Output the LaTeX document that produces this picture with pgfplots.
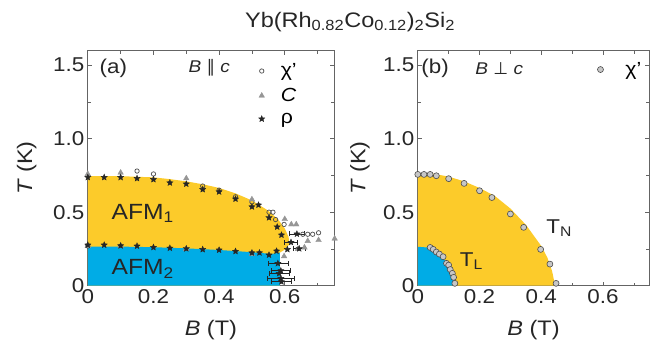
\documentclass[border=0pt]{standalone}
\usepackage{fontspec}
\setmainfont{Liberation Sans}[FakeStretch=1.12]
\newfontfamily\dejavu{DejaVu Sans}
\usepackage{pgfplots}
\pgfplotsset{compat=1.18}
\definecolor{afmy}{RGB}{252,203,42}
\definecolor{afmb}{RGB}{0,172,230}
\definecolor{axgray}{RGB}{100,100,100}
\definecolor{trigray}{RGB}{150,150,150}
\pgfdeclareplotmark{fstar}{%
 \pgfpathmoveto{\pgfpointpolar{90}{\pgfplotmarksize}}%
 \pgfpathlineto{\pgfpointpolar{126}{0.45\pgfplotmarksize}}%
 \pgfpathlineto{\pgfpointpolar{162}{\pgfplotmarksize}}%
 \pgfpathlineto{\pgfpointpolar{198}{0.45\pgfplotmarksize}}%
 \pgfpathlineto{\pgfpointpolar{234}{\pgfplotmarksize}}%
 \pgfpathlineto{\pgfpointpolar{270}{0.45\pgfplotmarksize}}%
 \pgfpathlineto{\pgfpointpolar{306}{\pgfplotmarksize}}%
 \pgfpathlineto{\pgfpointpolar{342}{0.45\pgfplotmarksize}}%
 \pgfpathlineto{\pgfpointpolar{18}{\pgfplotmarksize}}%
 \pgfpathlineto{\pgfpointpolar{54}{0.45\pgfplotmarksize}}%
 \pgfpathclose\pgfusepathqfillstroke}
\pgfplotsset{
 pstyle/.style={
  scale only axis, height=235.2pt, anchor=south west,
  xmin=0, xmax=0.75, ymin=0, ymax=1.6,
  xtick={0,0.2,0.4,0.6}, xticklabels={0,0.2,0.4,0.6},
  minor xtick={0.1,0.3,0.5,0.7},
  ytick={0,0.5,1,1.5}, yticklabels={0,0.5,1.0,1.5},
  minor ytick={0.25,0.75,1.25},
  tick align=inside, major tick length=4pt, minor tick length=3pt,
  axis line style={axgray, line width=0.8pt},
  tick style={axgray, line width=0.7pt},
  /pgf/number format/assume math mode=true,
  ticklabel style={font=\fontsize{20}{22}\selectfont, text=black!85},
  label style={font=\fontsize{21}{23}\selectfont, text=black!85},
  xlabel={\textit{B} (T)}, ylabel={\textit{T} (K)},
  xlabel style={at={(axis description cs:0.5,-0.19)}, anchor=center},
  clip=false,
  legend cell align=left,
  legend image code/.code={\draw[mark repeat=2,mark phase=2,##1] plot coordinates {(0pt,0pt)(5pt,0pt)(10pt,0pt)};},
 }
}
\begin{document}
\begin{tikzpicture}
\path[use as bounding box] (0,0) rectangle (659pt,349pt);
\node[font=\fontsize{21}{24}\selectfont, text=black!85] at (350pt,327pt) {Yb(Rh\textsubscript{0.82}Co\textsubscript{0.12})\textsubscript{2}Si\textsubscript{2}};
% ---------------- panel (a)
\begin{axis}[pstyle, at={(87.8pt,63.3pt)}, width=246.2pt,
  ylabel style={at={(axis description cs:-0.248,0.5)}, anchor=center},
  legend style={draw=none, fill=none, at={(axis cs:0.52,1.525)}, anchor=north west,
    font=\fontsize{19}{21}\selectfont, row sep=6pt, inner sep=0pt,
    /tikz/every odd column/.append style={column sep=14pt}}]
\addplot[fill=afmy, draw=none, forget plot] coordinates {
 (0,0) (0,0.745) (0.1,0.745) (0.2,0.737) (0.25,0.725) (0.3,0.71) (0.35,0.69)
 (0.4,0.665) (0.45,0.628) (0.5,0.58) (0.55,0.51) (0.58,0.45) (0.6,0.39)
 (0.612,0.33) (0.613,0.28) (0.6,0.245) (0.585,0.225) (0.585,0)} -- cycle;
\addplot[fill=afmb, draw=none, forget plot] coordinates {
 (0,0) (0,0.265) (0.1,0.266) (0.2,0.262) (0.3,0.254) (0.4,0.243) (0.5,0.228)
 (0.56,0.216) (0.585,0.225) (0.585,0)} -- cycle;
% chi'
\addplot[only marks, mark=o, mark size=2.2pt, draw=black!70, line width=0.7pt] coordinates {
 (0,0.27) (0.15,0.78) (0.2,0.76) (0.35,0.678) (0.4,0.65) (0.45,0.605) (0.5,0.57)
 (0.552,0.5) (0.564,0.5) (0.572,0.45) (0.598,0.417) (0.655,0.35) (0.67,0.35)
 (0.685,0.35) (0.703,0.36)};
\addlegendentry{χ'}
% C
\addplot[only marks, mark=triangle*, mark size=3.2pt, color=trigray] coordinates {
 (0,0.76) (0.1,0.769) (0.3,0.73) (0.5,0.587) (0.6,0.453) (0.62,0.417) (0.635,0.417)
 (0.67,0.304) (0.703,0.31) (0.752,0.32)
 (0,0.27) (0.1,0.27) (0.3,0.25) (0.5,0.215) (0.598,0.2) (0.64,0.25) (0.66,0.26)};
\addlegendentry{\textit{C}}
% rho
\addplot[only marks, mark=fstar, mark size=3.2pt, color=black!85] coordinates {
 (0,0.737) (0.05,0.737) (0.1,0.737) (0.15,0.73) (0.2,0.723) (0.25,0.70) (0.3,0.692)
 (0.35,0.655) (0.4,0.639) (0.45,0.59) (0.5,0.537) (0.52,0.549) (0.552,0.463)
 (0.577,0.40) (0.59,0.345)
 (0,0.277) (0.05,0.277) (0.1,0.272) (0.15,0.27) (0.2,0.261) (0.25,0.256) (0.3,0.252)
 (0.35,0.247) (0.4,0.243) (0.45,0.234) (0.5,0.224) (0.523,0.224) (0.552,0.209)
 (0.575,0.236) (0.608,0.247)};
\addlegendentry{ρ}
\addplot[only marks, mark=fstar, mark size=3.2pt, color=black!85, forget plot,
  error bars/.cd, x dir=both, x explicit, error bar style={black!85, line width=0.6pt},
  error mark options={rotate=90, mark size=2.5pt, black!85}] coordinates {
 (0.637,0.352) +- (0.023,0)
 (0.619,0.295) +- (0.02,0)
 (0.644,0.252) +- (0.018,0)
 (0.579,0.152) +- (0.03,0)
 (0.588,0.102) +- (0.03,0)
 (0.583,0.084) +- (0.03,0)
 (0.588,0.05) +- (0.04,0)
 (0.59,0.027) +- (0.03,0)};
\node[font=\fontsize{20}{22}\selectfont, text=black!85] at (axis cs:0.078,1.48) {(a)};
\node[font=\fontsize{17}{19}\selectfont, text=black!85] at (axis cs:0.37,1.48) {\textit{B} {\dejavu ∥} \textit{c}};
\node[font=\fontsize{22}{24}\selectfont, text=black!85, anchor=west] at (axis cs:0.062,0.49) {AFM\textsubscript{1}};
\node[font=\fontsize{22}{24}\selectfont, text=black!85, anchor=west] at (axis cs:0.062,0.115) {AFM\textsubscript{2}};
\end{axis}
% ---------------- panel (b)
\begin{axis}[pstyle, at={(417.8pt,63.3pt)}, width=231.5pt,
  ylabel style={at={(axis description cs:-0.25,0.5)}, anchor=center},
  legend style={draw=none, fill=none, at={(axis cs:0.5815,1.535)}, anchor=north west,
    font=\fontsize{19}{21}\selectfont, inner sep=0pt,
    /tikz/every odd column/.append style={column sep=20pt}}]
\addplot[fill=afmy, draw=none, forget plot] coordinates {
 (0,0) (0,0.765) (0.05,0.762) (0.1,0.742) (0.15,0.71) (0.2,0.665) (0.25,0.61)
 (0.3,0.525) (0.35,0.415) (0.4,0.27) (0.42,0.19) (0.435,0.1) (0.445,0)} -- cycle;
\addplot[fill=afmb, draw=none, forget plot] coordinates {
 (0,0) (0,0.265) (0.03,0.26) (0.05,0.245) (0.07,0.215) (0.09,0.17) (0.1,0.135)
 (0.11,0.085) (0.118,0.03) (0.12,0)} -- cycle;
\addplot[only marks, mark=*, mark size=3pt, draw=black!70, fill=black!22, line width=0.6pt] coordinates {
 (0,0.757) (0.02,0.757) (0.04,0.757) (0.06,0.748) (0.1,0.728) (0.15,0.696)
 (0.2,0.646) (0.24,0.6) (0.3,0.488) (0.343,0.397) (0.398,0.247) (0.428,0.147) (0.448,0.016)
 (0.04,0.26) (0.05,0.247) (0.06,0.229) (0.07,0.215) (0.082,0.197) (0.093,0.152)
 (0.1,0.14) (0.105,0.11) (0.112,0.084) (0.116,0.057) (0.12,0.016)};
\addlegendentry{χ'}
\node[font=\fontsize{20}{22}\selectfont, text=black!85] at (axis cs:0.056,1.48) {(b)};
\node[font=\fontsize{17}{19}\selectfont, text=black!85] at (axis cs:0.264,1.48) {\textit{B} {\dejavu ⊥} \textit{c}};
\node[font=\fontsize{20}{22}\selectfont, text=black!85, anchor=west] at (axis cs:0.405,0.39) {T\textsubscript{N}};
\node[font=\fontsize{20}{22}\selectfont, text=black!85, anchor=west] at (axis cs:0.125,0.17) {T\textsubscript{L}};
\end{axis}
\end{tikzpicture}
\end{document}
